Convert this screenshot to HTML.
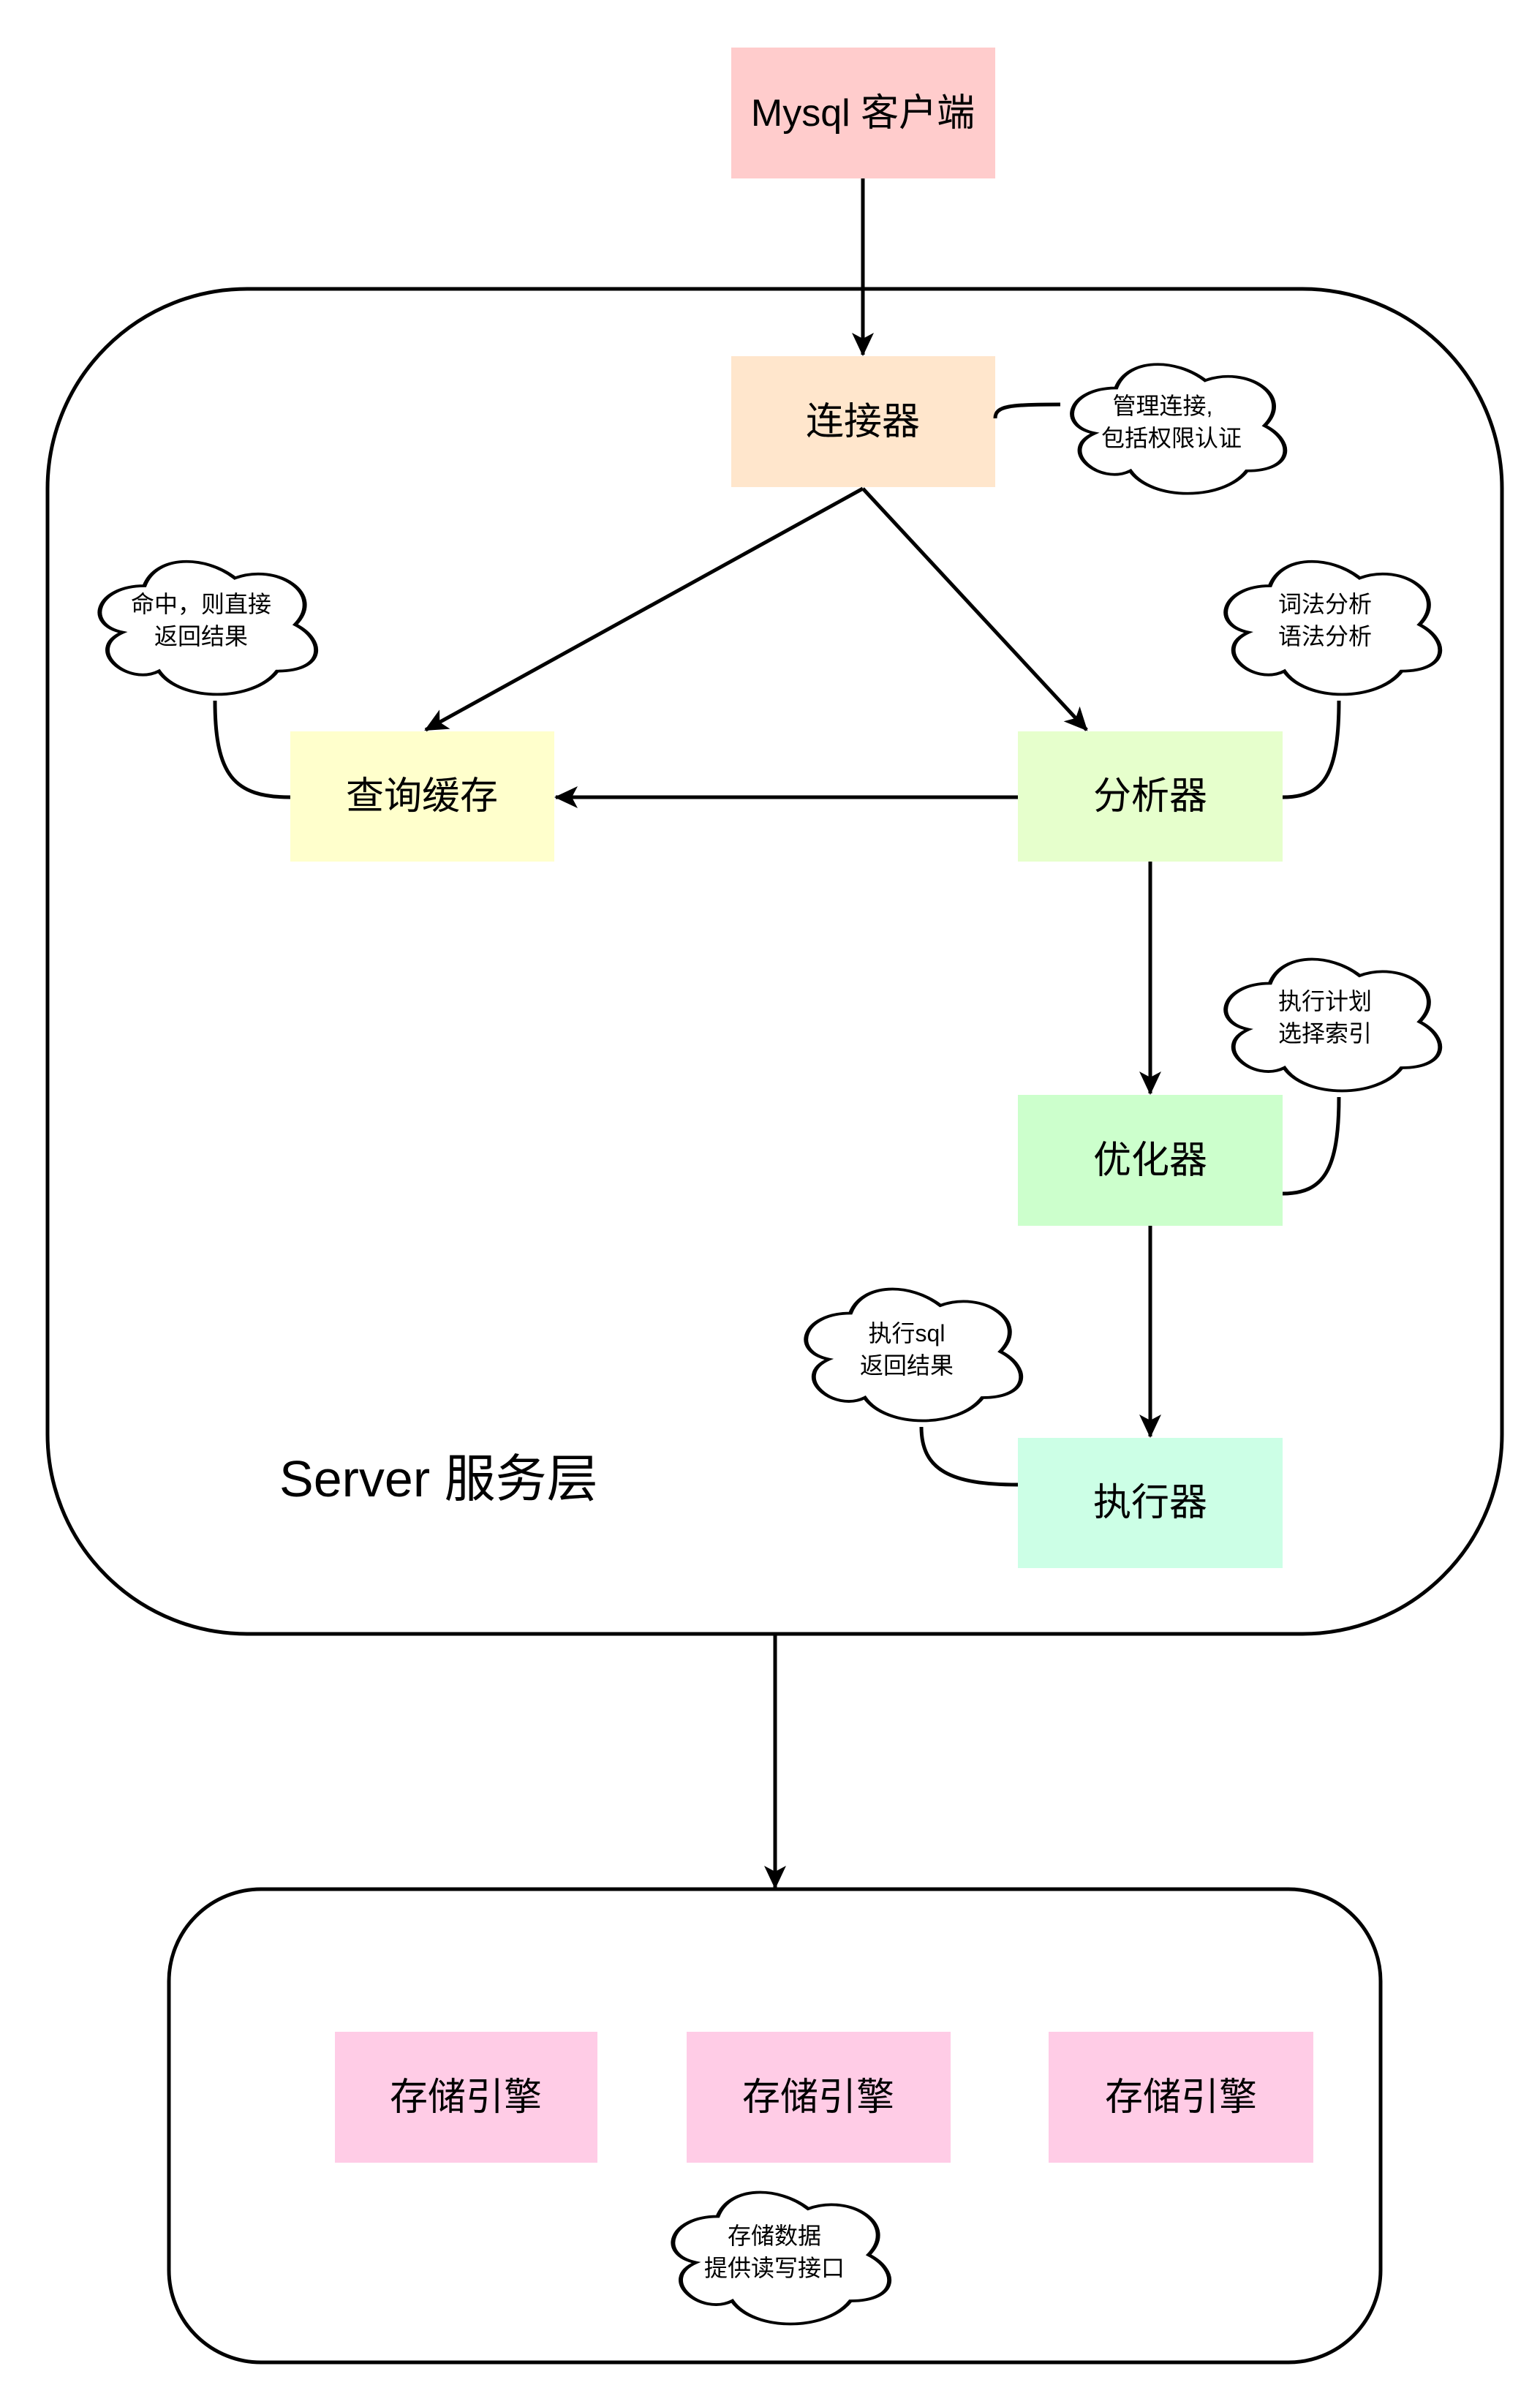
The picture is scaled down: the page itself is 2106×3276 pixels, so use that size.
<!DOCTYPE html>
<html><head><meta charset="utf-8"><style>
html,body{margin:0;padding:0;background:#fff;}
svg{display:block}
text{font-family:"Liberation Sans","Noto Sans CJK SC",sans-serif;fill:#000;text-anchor:middle;dominant-baseline:central}
.b{font-size:52px}
.c{font-size:32px}
</style></head><body>
<svg width="2106" height="3276" viewBox="0 0 2106 3276" xmlns="http://www.w3.org/2000/svg">
<defs>
<marker id="a" markerUnits="userSpaceOnUse" markerWidth="34" markerHeight="30" refX="30" refY="15" orient="auto">
<path d="M0,0 L32,15 L0,30 L8,15 Z" fill="#000"/>
</marker>
<path id="cl" d="M0.25,0.25 C0.05,0.25 0,0.5 0.16,0.55 C0,0.66 0.18,0.9 0.31,0.8 C0.4,1 0.7,1 0.8,0.8 C1,0.8 1,0.6 0.875,0.5 C1,0.3 0.8,0.1 0.625,0.2 C0.5,0.05 0.3,0.05 0.25,0.25 Z"/>
</defs>
<g fill="none" stroke="#000" stroke-width="5">
<rect x="65" y="395" width="1989" height="1839" rx="273" ry="273"/>
<rect x="231" y="2583" width="1657" height="647" rx="126" ry="126"/>
</g>
<rect x="1000" y="65" width="361" height="179" fill="#ffcccc"/>
<rect x="1000" y="487" width="361" height="179" fill="#ffe6cc"/>
<rect x="397" y="1000" width="361" height="178" fill="#ffffcc"/>
<rect x="1392" y="1000" width="362" height="178" fill="#e6ffcc"/>
<rect x="1392" y="1497" width="362" height="179" fill="#ccffcc"/>
<rect x="1392" y="1966" width="362" height="178" fill="#ccffe6"/>
<rect x="458" y="2778" width="359" height="179" fill="#ffcce6"/>
<rect x="939" y="2778" width="361" height="179" fill="#ffcce6"/>
<rect x="1434" y="2778" width="362" height="179" fill="#ffcce6"/>
<g stroke="#000" stroke-width="5" fill="none">
<line x1="1180" y1="244" x2="1180" y2="485" marker-end="url(#a)"/>
<line x1="1180" y1="668" x2="582" y2="998" marker-end="url(#a)"/>
<line x1="1180" y1="668" x2="1486" y2="998" marker-end="url(#a)"/>
<line x1="1392" y1="1090" x2="760" y2="1090" marker-end="url(#a)"/>
<line x1="1573" y1="1178" x2="1573" y2="1495" marker-end="url(#a)"/>
<line x1="1573" y1="1676" x2="1573" y2="1964" marker-end="url(#a)"/>
<line x1="1060" y1="2234" x2="1060" y2="2581" marker-end="url(#a)"/>
<path d="M1361,572 C1361,555 1380,553 1450,553"/>
<path d="M294,958 C294,1060 320,1090 397,1090"/>
<path d="M1831,958 C1831,1060 1810,1090 1754,1090"/>
<path d="M1831,1500 C1831,1600 1810,1632 1754,1632"/>
<path d="M1260,1951 C1260,2010 1300,2030 1392,2030"/>
</g>
<g fill="#fff" stroke="#000">
<use href="#cl" transform="translate(1445,479) scale(325,206)" style="stroke-width:0.018"/>
<use href="#cl" transform="translate(115,748) scale(330,212)" style="stroke-width:0.018"/>
<use href="#cl" transform="translate(1655,748) scale(327,212)" style="stroke-width:0.018"/>
<use href="#cl" transform="translate(1655,1292) scale(327,210)" style="stroke-width:0.018"/>
<use href="#cl" transform="translate(1081,1743) scale(328,210)" style="stroke-width:0.018"/>
<use href="#cl" transform="translate(899,2978) scale(330,210)" style="stroke-width:0.018"/>
</g>
<text class="b" x="1180" y="155">Mysql 客户端</text>
<text class="b" x="1180" y="577">连接器</text>
<text class="b" x="577" y="1089">查询缓存</text>
<text class="b" x="1573" y="1089">分析器</text>
<text class="b" x="1573" y="1587">优化器</text>
<text class="b" x="1573" y="2055">执行器</text>
<text class="b" x="637" y="2868">存储引擎</text>
<text class="b" x="1119" y="2868">存储引擎</text>
<text class="b" x="1615" y="2868">存储引擎</text>
<text x="382" y="2022" style="font-size:70px;text-anchor:start">Server 服务层</text>
<text class="c" x="1590" y="555">管理连接,</text>
<text class="c" x="1602" y="599">包括权限认证</text>
<text class="c" x="275" y="826">命中，则直接</text>
<text class="c" x="275" y="870">返回结果</text>
<text class="c" x="1812" y="826">词法分析</text>
<text class="c" x="1812" y="870">语法分析</text>
<text class="c" x="1812" y="1369">执行计划</text>
<text class="c" x="1812" y="1413">选择索引</text>
<text class="c" x="1240" y="1823">执行sql</text>
<text class="c" x="1240" y="1867">返回结果</text>
<text class="c" x="1059" y="3057">存储数据</text>
<text class="c" x="1059" y="3101">提供读写接口</text>
</svg>
</body></html>
